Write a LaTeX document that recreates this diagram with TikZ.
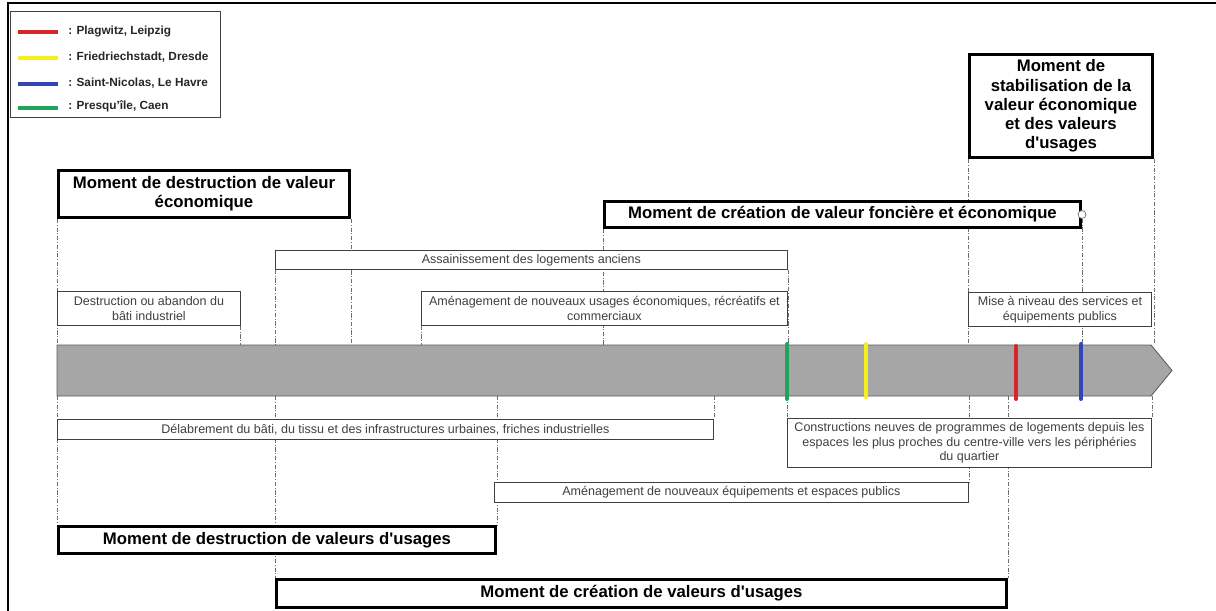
\documentclass[tikz,border=0pt]{standalone}
\usepackage{fontspec}
\setmainfont{Liberation Sans}
\usetikzlibrary{positioning, backgrounds}
\definecolor{bargray}{HTML}{A6A6A6}
\definecolor{bardark}{HTML}{5A5A5A}
\definecolor{boxgray}{HTML}{404040}
\definecolor{guidegray}{HTML}{6E6E6E}
\definecolor{leipzigred}{HTML}{D9262B}
\definecolor{dresdeyellow}{HTML}{F6EE1E}
\definecolor{havreblue}{HTML}{3446B4}
\definecolor{caengreen}{HTML}{1FA55A}
\definecolor{keytext}{HTML}{262626}

\begin{document}
\begin{tikzpicture}[
  x=0.025cm, y=-0.025cm,
  wh/.style 2 args={minimum width=#1*0.025cm, minimum height=#2*0.025cm},
  moment/.style={draw, line width=2.1pt, fill=white, align=center, inner sep=0pt, anchor=north west, font=\fontsize{11.9}{13.7}\selectfont\bfseries},
  stage/.style={draw=boxgray, line width=0.6pt, fill=white, align=center, inner sep=0pt, anchor=north west, font=\fontsize{8.9}{10.4}\selectfont, text=boxgray},
  guide/.style={draw=guidegray, line width=0.5pt, dash pattern=on 3pt off 1.2pt on 0.7pt off 1.2pt},
  tick/.style={line width=2.8pt, line cap=round},
  keyline/.style={line width=2.4pt},
  keylabel/.style={anchor=west, inner sep=0pt, text=keytext, font=\fontsize{8.4}{10}\selectfont\bfseries},
]
  \useasboundingbox (0,0) rectangle (1216,611);
  \draw[line width=1.3pt] (8,611) -- (8,3) -- (1216,3);

  % legend
  \node[draw=boxgray, line width=0.6pt, anchor=north west, wh={210}{106}] (legend) at (10,11) {};
  \draw[keyline, leipzigred] (18,32) -- (58,32);
  \draw[keyline, dresdeyellow] (18,58) -- (58,58);
  \draw[keyline, havreblue] (18,84) -- (58,84);
  \draw[keyline, caengreen] (18,108) -- (58,108);
  \node[keylabel] (kleipzig) at (68,31) {: Plagwitz, Leipzig};
  \node[keylabel] (kdresde) at (68,57) {: Friedriechstadt, Dresde};
  \node[keylabel] (khavre) at (68,83) {: Saint-Nicolas, Le Havre};
  \node[keylabel] (kcaen) at (68,106) {: Presqu'île, Caen};

  % timeline bar
  \draw[draw=bardark, fill=bargray, line width=0.6pt]
    (57,345) -- (1151,345) -- (1172,370.5) -- (1151,396) -- (57,396) -- cycle;
  \coordinate (bartop) at (57,345);
  \coordinate (barbot) at (57,396);

  % moments above
  \node[moment, wh={291}{47}] (ecodestr) at (57,169) {Moment de destruction de valeur\\économique};
  \node[moment, wh={476}{26}] (ecocrea) at (603,200) {Moment de création de valeur foncière et économique};
  \node[moment, wh={183}{103}] (stab) at (968,53) {Moment de\\stabilisation de la\\valeur économique\\et des valeurs\\d\textquotesingle usages};
  \node[circle, draw=guidegray, fill=white, line width=0.5pt, minimum size=0.2cm, inner sep=0pt] (handle) at (ecocrea.east) {};

  % stages above
  \node[stage, wh={512}{19}] (assain) at (275,250) {Assainissement des logements anciens};
  \node[stage, wh={183}{34}] (abandon) at (57,291) {Destruction ou abandon du\\bâti industriel};
  \node[stage, wh={366}{34}] (usages) at (421,291) {Aménagement de nouveaux usages économiques, récréatifs et\\commerciaux};
  \node[stage, wh={183}{34}] (services) at (968,292) {Mise à niveau des services et\\équipements publics};

  % stages below
  \node[stage, wh={656}{20}] (delabr) at (57,419) {Délabrement du bâti, du tissu et des infrastructures urbaines, friches industrielles};
  \node[stage, wh={364}{49}] (constr) at (787,418) {Constructions neuves de programmes de logements depuis les\\espaces les plus proches du centre-ville vers les périphéries\\du quartier};
  \node[stage, wh={474}{20}] (equip) at (494,482) {Aménagement de nouveaux équipements et espaces publics};

  % moments below
  \node[moment, wh={437}{27}] (usdestr) at (57,525) {Moment de destruction de valeurs d\textquotesingle usages};
  \node[moment, wh={730}{28}] (uscrea) at (275,578) {Moment de création de valeurs d\textquotesingle usages};

  \begin{scope}[on background layer]
    \draw[guide] (ecodestr.south west) -- (ecodestr.south west |- bartop);
    \draw[guide] (ecodestr.south east) -- (ecodestr.south east |- bartop);
    \draw[guide] (abandon.south east) -- (abandon.south east |- bartop);
    \draw[guide] (assain.south west) -- (assain.south west |- bartop);
    \draw[guide] (assain.south east) -- (assain.south east |- bartop);
    \draw[guide] (usages.south west) -- (usages.south west |- bartop);
    \draw[guide] (ecocrea.south west) -- (ecocrea.south west |- bartop);
    \draw[guide] (handle.south) -- (handle.south |- bartop);
    \draw[guide] (stab.south west) -- (stab.south west |- bartop);
    \draw[guide] (stab.south east) -- (stab.south east |- bartop);

    \draw[guide] (usdestr.north west |- barbot) -- (usdestr.north west);
    \draw[guide] (uscrea.north west |- barbot) -- (uscrea.north west);
    \draw[guide] (usdestr.north east |- barbot) -- (usdestr.north east);
    \draw[guide] (delabr.north east |- barbot) -- (delabr.north east);
    \draw[guide] (constr.north west |- barbot) -- (constr.north west);
    \draw[guide] (equip.north east |- barbot) -- (equip.north east);
    \draw[guide] (uscrea.north east |- barbot) -- (uscrea.north east);
    \draw[guide] (constr.north east |- barbot) -- (constr.north east);
  \end{scope}

  % site markers on the bar
  \draw[tick, caengreen] (787,344) -- (787,399);
  \draw[tick, dresdeyellow] (866,344) -- (866,397);
  \draw[tick, leipzigred] (1016,346) -- (1016,399);
  \draw[tick, havreblue] (1081,344) -- (1081,399);
\end{tikzpicture}
\end{document}
